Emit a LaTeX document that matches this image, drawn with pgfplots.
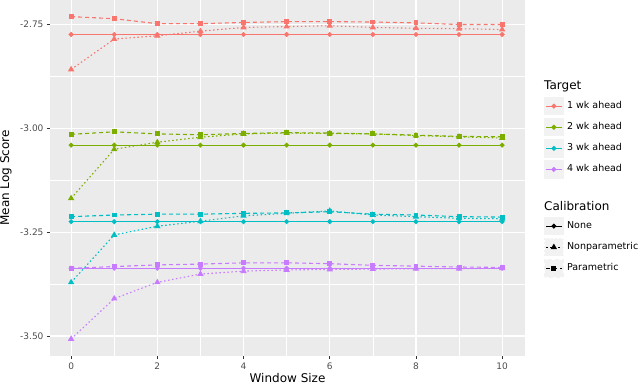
\documentclass[border=0pt]{standalone}
\usepackage{pgfplots}
\pgfplotsset{compat=1.18}
\usepackage{pgfplotstable}
\usepackage{fontspec}
\setmainfont{DejaVu Sans}
\definecolor{cA}{HTML}{F8766D}
\definecolor{cB}{HTML}{7CAE00}
\definecolor{cC}{HTML}{00BFC4}
\definecolor{cD}{HTML}{C77CFF}
\definecolor{panelbg}{HTML}{EBEBEB}
\definecolor{keybg}{HTML}{F2F2F2}
\definecolor{tickgrey}{HTML}{4D4D4D}
\definecolor{tickline}{HTML}{333333}

\pgfplotstableread{
x  rN     rNP    rP     gN     gNP    gP     cN     cNP    cP     pN     pNP    pP
0  -2.775 -2.859 -2.732 -3.041 -3.169 -3.015 -3.225 -3.371 -3.213 -3.337 -3.507 -3.337
1  -2.775 -2.786 -2.737 -3.041 -3.051 -3.009 -3.225 -3.257 -3.209 -3.337 -3.410 -3.333
2  -2.775 -2.778 -2.749 -3.041 -3.034 -3.014 -3.225 -3.236 -3.207 -3.337 -3.371 -3.329
3  -2.775 -2.767 -2.749 -3.041 -3.022 -3.016 -3.225 -3.224 -3.207 -3.337 -3.351 -3.327
4  -2.775 -2.758 -2.746 -3.041 -3.014 -3.013 -3.225 -3.211 -3.205 -3.337 -3.344 -3.324
5  -2.775 -2.756 -2.744 -3.041 -3.012 -3.011 -3.225 -3.205 -3.204 -3.337 -3.341 -3.324
6  -2.775 -2.754 -2.744 -3.041 -3.013 -3.012 -3.225 -3.199 -3.201 -3.337 -3.340 -3.326
7  -2.775 -2.758 -2.745 -3.041 -3.014 -3.014 -3.225 -3.209 -3.207 -3.337 -3.339 -3.330
8  -2.775 -2.760 -2.747 -3.041 -3.018 -3.017 -3.225 -3.213 -3.209 -3.337 -3.338 -3.332
9  -2.775 -2.761 -2.751 -3.041 -3.021 -3.020 -3.225 -3.217 -3.213 -3.337 -3.338 -3.334
10 -2.775 -2.763 -2.751 -3.041 -3.024 -3.021 -3.225 -3.218 -3.214 -3.337 -3.337 -3.335
}\data

\pgfplotsset{
  sNone/.style={solid, line width=1.1pt, mark=*, mark size=1.9pt, mark options={solid}},
  sNP/.style={line width=1.1pt, dash pattern=on 1.5pt off 2.5pt, mark=triangle*, mark size=2.6pt, mark options={solid}},
  sP/.style={line width=1.1pt, dash pattern=on 4pt off 3pt, mark=square*, mark size=1.9pt, mark options={solid}},
}

\begin{document}
\begin{tikzpicture}
\useasboundingbox (0pt,0pt) rectangle (640pt,385pt);
\begin{axis}[
  at={(50pt,29pt)}, anchor=south west,
  width=475pt, height=356pt, scale only axis,
  xmin=-0.49, xmax=10.53, ymin=-3.548, ymax=-2.692,
  axis background/.style={fill=panelbg},
  axis line style={draw=none},
  xtick={0,2,4,6,8,10}, xticklabels={0,2,4,6,8,10},
  ytick={-3.5,-3.25,-3,-2.75}, yticklabels={-3.50,-3.25,-3.00,-2.75},
  minor xtick={1,3,5,7,9}, minor ytick={-3.375,-3.125,-2.875},
  grid=both,
  major grid style={white, line width=1.1pt},
  minor grid style={white, line width=0.55pt},
  tick align=outside, major tick length=3pt, minor tick length=0pt,
  tick style={tickline, line width=0.8pt},
  xtick pos=bottom, ytick pos=left,
  ticklabel style={font=\fontsize{9}{11}\selectfont, text=tickgrey},
  xlabel={Window Size}, ylabel={Mean Log Score},
  label style={font=\fontsize{12}{14}\selectfont},
  xlabel style={at={(axis description cs:0.5,-0.062)}, anchor=center},
  ylabel style={at={(axis description cs:-0.093,0.5)}, anchor=center, rotate=0},
  legend image code/.code={
     \fill[keybg] (0pt,-8.6pt) rectangle (18.6pt,8.6pt);
     \draw[mark repeat=2,mark phase=2,#1] plot coordinates {(1.5pt,0pt) (9.3pt,0pt) (17.1pt,0pt)};},
  legend style={at={(1.04,0.7275)}, anchor=north west, draw=none, fill=none,
     inner sep=0pt, outer sep=0pt, row sep=2.8pt, column sep=3.4pt,
     font=\fontsize{9.5}{11}\selectfont,
     nodes={inner sep=0pt, text height=7pt, text depth=2pt}},
  legend cell align=left,
]
\addplot[forget plot, color=cA, sNone] table[x=x,y=rN]{\data};
\addplot[forget plot, color=cA, sNP] table[x=x,y=rNP]{\data};
\addplot[forget plot, color=cA, sP] table[x=x,y=rP]{\data};
\addplot[forget plot, color=cB, sNone] table[x=x,y=gN]{\data};
\addplot[forget plot, color=cB, sNP] table[x=x,y=gNP]{\data};
\addplot[forget plot, color=cB, sP] table[x=x,y=gP]{\data};
\addplot[forget plot, color=cC, sNone] table[x=x,y=cN]{\data};
\addplot[forget plot, color=cC, sNP] table[x=x,y=cNP]{\data};
\addplot[forget plot, color=cC, sP] table[x=x,y=cP]{\data};
\addplot[forget plot, color=cD, sNone] table[x=x,y=pN]{\data};
\addplot[forget plot, color=cD, sNP] table[x=x,y=pNP]{\data};
\addplot[forget plot, color=cD, sP] table[x=x,y=pP]{\data};
\addlegendimage{color=cA, sNone}
\addlegendentry{1 wk ahead}
\addlegendimage{color=cB, sNone}
\addlegendentry{2 wk ahead}
\addlegendimage{color=cC, sNone}
\addlegendentry{3 wk ahead}
\addlegendimage{color=cD, sNone}
\addlegendentry{4 wk ahead}
\end{axis}
\begin{axis}[
  at={(50pt,29pt)}, anchor=south west,
  width=475pt, height=356pt, scale only axis,
  xmin=0, xmax=1, ymin=0, ymax=1, hide axis,
  legend image code/.code={
     \fill[keybg] (0pt,-8.6pt) rectangle (18.6pt,8.6pt);
     \draw[mark repeat=2,mark phase=2,#1] plot coordinates {(1.5pt,0pt) (9.3pt,0pt) (17.1pt,0pt)};},
  legend style={at={(1.04,0.3904)}, anchor=north west, draw=none, fill=none,
     inner sep=0pt, outer sep=0pt, row sep=2.8pt, column sep=3.4pt,
     font=\fontsize{9.5}{11}\selectfont,
     nodes={inner sep=0pt, text height=7pt, text depth=2pt}},
  legend cell align=left,
]
\addlegendimage{color=black, sNone}
\addlegendentry{None}
\addlegendimage{color=black, sNP}
\addlegendentry{Nonparametric}
\addlegendimage{color=black, sP}
\addlegendentry{Parametric}
\end{axis}
\node[anchor=west, inner sep=0pt, font=\fontsize{12}{14}\selectfont] at (544pt,298.3pt) {Target};
\node[anchor=west, inner sep=0pt, font=\fontsize{12}{14}\selectfont] at (544pt,179pt) {Calibration};
\end{tikzpicture}
\end{document}
